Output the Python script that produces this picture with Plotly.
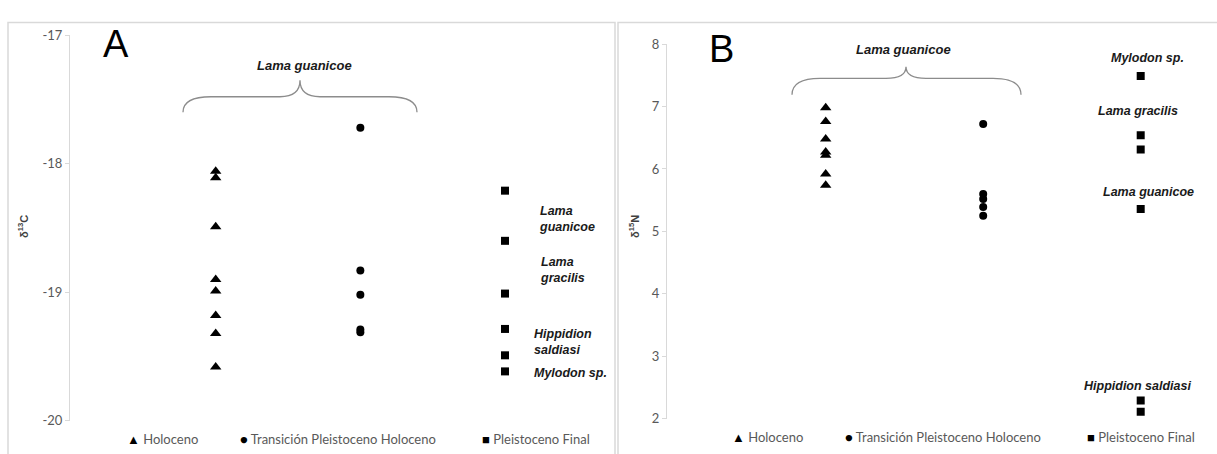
import plotly.graph_objects as go

W, H = 1217, 454

# ---------------- data ----------------
groups = ["Holoceno", "Transición Pleistoceno Holoceno", "Pleistoceno Final"]
group_x = [1, 2, 3]

c13_holoceno = [-18.06, -18.11, -18.49, -18.90, -18.99, -19.18, -19.32, -19.58]
c13_transicion = [-17.72, -18.83, -19.02, -19.29, -19.31]
c13_pleistoceno = [-18.21, -18.60, -19.01, -19.285, -19.49, -19.615]

n15_holoceno = [6.98, 6.76, 6.48, 6.27, 6.22, 5.92, 5.74]
n15_transicion = [6.72, 5.60, 5.52, 5.39, 5.25]
n15_pleistoceno = [7.49, 6.54, 6.31, 5.36, 2.29, 2.11]

c13_ticks = [-20, -19, -18, -17]
n15_ticks = [2, 3, 4, 5, 6, 7, 8]

c13_labels = ["Lama<br>guanicoe", "Lama<br>gracilis", "Hippidion<br>saldiasi", "Mylodon sp."]
n15_labels = ["Mylodon sp.", "Lama gracilis", "Lama guanicoe", "Hippidion saldiasi"]

symbols = ["triangle-up", "circle", "square"]
sizes = [10, 8, 8]
legend_glyphs = ["▲", "●", "■"]


def px(x):
    return x / W


def py(y):
    return 1 - y / H


fig = go.Figure()

left_sets = [c13_holoceno, c13_transicion, c13_pleistoceno]
right_sets = [n15_holoceno, n15_transicion, n15_pleistoceno]

for i, (name, vals) in enumerate(zip(groups, left_sets)):
    fig.add_trace(go.Scatter(
        x=[group_x[i]] * len(vals), y=vals, mode="markers", name=name,
        marker=dict(symbol=symbols[i], size=sizes[i], color="black"),
        xaxis="x", yaxis="y", showlegend=False))
for i, (name, vals) in enumerate(zip(groups, right_sets)):
    fig.add_trace(go.Scatter(
        x=[group_x[i]] * len(vals), y=vals, mode="markers", name=name,
        marker=dict(symbol=symbols[i], size=sizes[i], color="black"),
        xaxis="x2", yaxis="y2", showlegend=False))

# x ranges so that group positions land where the reference puts them
lx1, lsp = 215.7, 144.65
rx1, rsp = 825.7, 157.5
left_dom = (70, 615)
right_dom = (667, 1217)

axis_col = "#d9d9d9"
tick_font = dict(family="Lato, Open Sans, sans-serif", size=13, color="#595959")

fig.update_layout(
    width=W, height=H, margin=dict(l=0, r=0, t=0, b=0),
    paper_bgcolor="white", plot_bgcolor="white",
    xaxis=dict(domain=[px(left_dom[0]), px(left_dom[1])],
               range=[(left_dom[0] - lx1) / lsp + 1, (left_dom[1] - lx1) / lsp + 1],
               visible=False, fixedrange=True),
    yaxis=dict(domain=[py(428), py(28)], range=[-20, -17], tickvals=c13_ticks,
               ticktext=[str(t) for t in c13_ticks],
               showgrid=False, zeroline=False, showline=True, linecolor=axis_col,
               linewidth=1, ticks="outside", ticklen=4, tickcolor=axis_col,
               tickfont=tick_font, anchor="x"),
    xaxis2=dict(domain=[px(right_dom[0]), px(right_dom[1])],
                range=[(right_dom[0] - rx1) / rsp + 1, (right_dom[1] - rx1) / rsp + 1],
                visible=False, fixedrange=True, anchor="y2"),
    yaxis2=dict(domain=[py(425.5), py(37.5)], range=[2, 8], tickvals=n15_ticks,
                ticktext=[str(t) for t in n15_ticks],
                showgrid=False, zeroline=False, showline=True, linecolor=axis_col,
                linewidth=1, ticks="outside", ticklen=4, tickcolor=axis_col,
                tickfont=tick_font, anchor="x2"),
)

shapes = []
# panel borders
shapes.append(dict(type="path", xref="paper", yref="paper",
                   path=f"M {px(8)},{py(470)} L {px(8)},{py(15)} L {px(615)},{py(15)} L {px(615)},{py(470)}",
                   line=dict(color=axis_col, width=1.5)))
shapes.append(dict(type="path", xref="paper", yref="paper",
                   path=f"M {px(618)},{py(470)} L {px(618)},{py(15)} L {px(1230)},{py(15)}",
                   line=dict(color=axis_col, width=1.5)))


def brace(x0, x1, xt, ytip, yh, yend):
    r = 28
    p = (f"M {px(x0)},{py(yend)} Q {px(x0)},{py(yh)} {px(x0 + r)},{py(yh)} "
         f"L {px(xt - 20)},{py(yh)} Q {px(xt)},{py(yh)} {px(xt)},{py(ytip)} "
         f"Q {px(xt)},{py(yh)} {px(xt + 20)},{py(yh)} "
         f"L {px(x1 - r)},{py(yh)} Q {px(x1)},{py(yh)} {px(x1)},{py(yend)}")
    return dict(type="path", xref="paper", yref="paper", path=p,
                line=dict(color="#8c8c8c", width=1.3))


shapes.append(brace(183, 417, 300, 75, 92, 108))
shapes.append(brace(792, 1021, 906, 61, 73, 90))
fig.update_layout(shapes=shapes)

ann = []
lab_font = dict(family="Liberation Sans, Arial, sans-serif", size=12.5, color="#1a1a1a")


def lab(text, x, y, anchor="left", size=12.5):
    f = dict(lab_font)
    f["size"] = size
    ann.append(dict(text=f"<b><i>{text}</i></b>", x=px(x), y=py(y), xref="paper", yref="paper",
                    xanchor=anchor, yanchor="middle", showarrow=False, font=f, align="left"))


# left panel species labels
lab(c13_labels[0], 537, 219)
lab(c13_labels[1], 538, 272)
lab(c13_labels[2], 532, 346)
lab(c13_labels[3], 532, 378)
lab("Lama guanicoe", 304, 60, "center", 13)

# right panel species labels
lab(n15_labels[0], 1147, 52, "center")
lab(n15_labels[1], 1138, 107, "center")
lab(n15_labels[2], 1148, 191, "center")
lab(n15_labels[3], 1137, 392, "center")
lab("Lama guanicoe", 903, 43, "center", 13)

# panel letters
for t, x, y in [("A", 116, 37), ("B", 721, 43)]:
    ann.append(dict(text=t, x=px(x), y=py(y), xref="paper", yref="paper", xanchor="center",
                    yanchor="middle", showarrow=False,
                    font=dict(family="Liberation Sans, Arial, sans-serif", size=38, color="black")))

# axis titles
ann.append(dict(text="<b>δ<sup>13</sup>C</b>", x=px(23), y=py(227), xref="paper", yref="paper",
                textangle=-90, showarrow=False, xanchor="center", yanchor="middle",
                font=dict(family="Liberation Sans, Arial, sans-serif", size=11, color="#404040")))
ann.append(dict(text="<b>δ<sup>15</sup>N</b>", x=px(634), y=py(227), xref="paper", yref="paper",
                textangle=-90, showarrow=False, xanchor="center", yanchor="middle",
                font=dict(family="Liberation Sans, Arial, sans-serif", size=11, color="#404040")))

# legends
leg_font = dict(family="Lato, Open Sans, sans-serif", size=13, color="#595959")
for xs, yl in [([125, 238, 480], 447), ([730, 843, 1085], 445)]:
    for g, gl, x in zip(groups, legend_glyphs, xs):
        ann.append(dict(text=f"<span style='color:black'>{gl}</span> {g}", x=px(x), y=py(yl),
                        xref="paper", yref="paper", xanchor="left", yanchor="middle",
                        showarrow=False, font=leg_font))

fig.update_layout(annotations=ann)

fig.write_html("out.html", config={"displayModeBar": False},
               post_script="document.body.style.margin='0';document.body.style.overflow='hidden';")
